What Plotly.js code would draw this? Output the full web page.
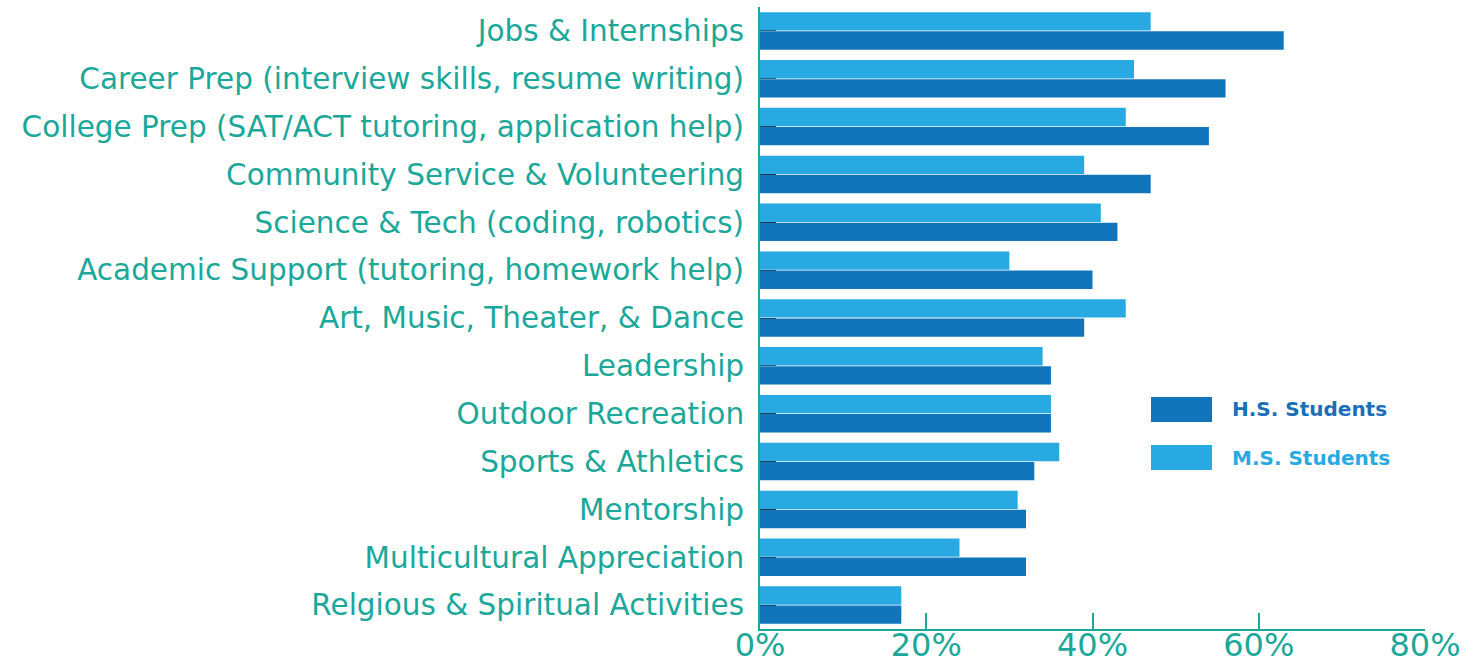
<!DOCTYPE html>
<html><head><meta charset="utf-8">
<script src="https://cdn.plot.ly/plotly-3.0.1.min.js"></script>
<style>html,body{margin:0;padding:0;background:#fff;}#chart{width:1481px;height:663px;}</style>
</head><body><div id="chart"></div>
<script>
const categories = [
  "Jobs & Internships",
  "Career Prep (interview skills, resume writing)",
  "College Prep (SAT/ACT tutoring, application help)",
  "Community Service & Volunteering",
  "Science & Tech (coding, robotics)",
  "Academic Support (tutoring, homework help)",
  "Art, Music, Theater, & Dance",
  "Leadership",
  "Outdoor Recreation",
  "Sports & Athletics",
  "Mentorship",
  "Multicultural Appreciation",
  "Relgious & Spiritual Activities"
];
const hsValues = [63, 56, 54, 47, 43, 40, 39, 35, 35, 33, 32, 32, 17];
const msValues = [47, 45, 44, 39, 41, 30, 44, 34, 35, 36, 31, 24, 17];
const seriesNames = ["H.S. Students", "M.S. Students"];
const tickVals = [0, 20, 40, 60, 80];
const tickText = ["0%", "20%", "40%", "60%", "80%"];

const hsColor = "#1175bb", msColor = "#28a9e1", teal = "#1ba89a";
const font = "'DejaVu Sans', sans-serif";

const traces = [
  {type:"bar", orientation:"h", name:seriesNames[1], y:categories, x:msValues, marker:{color:msColor}, showlegend:false, hoverinfo:"x+y"},
  {type:"bar", orientation:"h", name:seriesNames[0], y:categories, x:hsValues, marker:{color:hsColor}, showlegend:false, hoverinfo:"x+y"}
];

const layout = {
  width:1481, height:663,
  margin:{l:760, r:56, t:7, b:34},
  paper_bgcolor:"#fff", plot_bgcolor:"#fff",
  barmode:"group", bargap:0.2, bargroupgap:0.04,
  showlegend:false,
  xaxis:{range:[0,80], tickvals:tickVals, ticktext:tickText, showgrid:false, zeroline:false,
    showline:true, linecolor:teal, linewidth:2, ticks:"inside", ticklen:16, tickwidth:2, tickcolor:teal,
    ticklabelstandoff:-13,
    tickfont:{family:font, size:32, color:teal}, fixedrange:true},
  yaxis:{type:"category", range:[12.5,-0.5], showgrid:false, zeroline:false,
    showline:true, linecolor:teal, linewidth:2, ticks:"inside", ticklen:16, tickwidth:1, tickcolor:"#222",
    layer:"below traces", ticklabelstandoff:8,
    tickfont:{family:font, size:29.5, color:teal}, fixedrange:true},
  shapes:[
    {type:"rect", xref:"paper", yref:"paper", x0:(1151-760)/665, x1:(1212-760)/665, y0:(629-422)/622, y1:(629-397)/622, fillcolor:hsColor, line:{width:0}},
    {type:"rect", xref:"paper", yref:"paper", x0:(1151-760)/665, x1:(1212-760)/665, y0:(629-470)/622, y1:(629-445)/622, fillcolor:msColor, line:{width:0}}
  ],
  annotations:[
    {xref:"paper", yref:"paper", x:(1230-760)/665, y:(629-409)/622, xanchor:"left", yanchor:"middle", text:"<b>"+seriesNames[0]+"</b>", showarrow:false, font:{family:font, size:20, color:"#1a6fb8"}},
    {xref:"paper", yref:"paper", x:(1230-760)/665, y:(629-458)/622, xanchor:"left", yanchor:"middle", text:"<b>"+seriesNames[1]+"</b>", showarrow:false, font:{family:font, size:20, color:msColor}}
  ]
};
Plotly.newPlot("chart", traces, layout, {displayModeBar:false, staticPlot:true});
</script></body></html>
